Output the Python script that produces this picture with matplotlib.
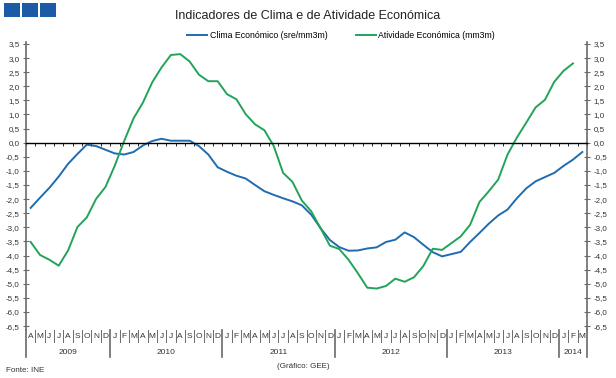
"""
Indicadores de Clima e de Atividade Económica — monthly chart, Apr 2009 to Mar 2014.
"""
import matplotlib
matplotlib.use('Agg')
import matplotlib.pyplot as plt
import matplotlib.transforms as mtransforms
from matplotlib.patches import Rectangle
from matplotlib.ticker import FixedLocator, FuncFormatter
import numpy as np

# ─────────────────────────────────────────────────────────────────────
# DATA
# ─────────────────────────────────────────────────────────────────────
YEARS = [2009, 2010, 2011, 2012, 2013, 2014]
MONTHS_PER_YEAR = [9, 12, 12, 12, 12, 3]          # Apr 2009 .. Mar 2014
MONTH_LETTERS = ['J', 'F', 'M', 'A', 'M', 'J', 'J', 'A', 'S', 'O', 'N', 'D']
FIRST_MONTH = 4

clima = [
    -2.31, -1.95, -1.60, -1.20, -0.75, -0.40, -0.07, -0.12, -0.25, -0.38,
    -0.42, -0.33, -0.10, 0.06, 0.14, 0.07, 0.07, 0.07, -0.12, -0.42,
    -0.87, -1.03, -1.17, -1.27, -1.50, -1.72, -1.85, -1.97, -2.08, -2.22,
    -2.55, -3.03, -3.45, -3.70, -3.83, -3.82, -3.75, -3.71, -3.52, -3.44,
    -3.18, -3.35, -3.62, -3.88, -4.03, -3.95, -3.87, -3.52, -3.20, -2.87,
    -2.58, -2.37, -1.97, -1.62, -1.37, -1.22, -1.07, -0.82, -0.60, -0.33,
]
atividade = [
    -3.52, -3.98, -4.15, -4.36, -3.82, -2.99, -2.65, -1.99, -1.57, -0.81,
    0.06, 0.86, 1.42, 2.14, 2.67, 3.11, 3.14, 2.88, 2.41, 2.18,
    2.18, 1.72, 1.54, 1.01, 0.65, 0.44, -0.12, -1.07, -1.39, -2.05,
    -2.43, -3.03, -3.65, -3.77, -4.15, -4.63, -5.14, -5.17, -5.08, -4.82,
    -4.93, -4.77, -4.37, -3.76, -3.80, -3.56, -3.32, -2.91, -2.10, -1.72,
    -1.31, -0.42, 0.18, 0.71, 1.25, 1.52, 2.16, 2.55, 2.81,
]
y_ticks = np.arange(-6.5, 3.51, 0.5)

BLUE = '#1f6cb0'
GREEN = '#22a35a'
LOGO = '#1c5ca6'
AXIS_GREY = '#6a6a6a'

plt.rcParams.update({
    'font.family': 'sans-serif',
    'font.sans-serif': ['Liberation Sans', 'DejaVu Sans'],
    'font.size': 6,
})

W, H = 616, 378
fig = plt.figure(figsize=(W / 100, H / 100), dpi=100)

# plot area in pixels: x 26..587, y 42..330
ax = fig.add_axes([26 / W, 1 - 330 / H, (587 - 26) / W, (330 - 42) / H])

n_months = sum(MONTHS_PER_YEAR)
ax.plot(np.arange(len(clima)) + 0.5, clima, color=BLUE, lw=1.4,
        label='Clima Económico (sre/mm3m)', solid_joinstyle='round')
ax.plot(np.arange(len(atividade)) + 0.5, atividade, color=GREEN, lw=1.4,
        label='Atividade Económica (mm3m)', solid_joinstyle='round')

ax.set_xlim(0, n_months)
ax.set_ylim(-6.64, 3.57)

# category axis sits on zero, small downward ticks between months
ax.spines['top'].set_visible(False)
ax.spines['bottom'].set_position(('data', 0))
ax.spines['bottom'].set_color('black')
ax.spines['bottom'].set_linewidth(1.0)
for side in ('left', 'right'):
    ax.spines[side].set_color(AXIS_GREY)
    ax.spines[side].set_linewidth(1.2)
ax.xaxis.set_major_locator(FixedLocator(np.arange(n_months + 1)))
ax.tick_params(axis='x', direction='out', length=2.5, width=0.6,
               color='black', labelbottom=False)

ax.yaxis.set_major_locator(FixedLocator(y_ticks))
ax.yaxis.set_major_formatter(
    FuncFormatter(lambda v, p: f'{v:.1f}'.replace('.', ',').replace('-0,0', '0,0')))
ax.tick_params(axis='y', left=True, right=True, labelleft=True, labelright=True,
               direction='inout', length=5, width=0.8, color=AXIS_GREY,
               labelsize=5.8, labelcolor='#333333', pad=2)

# month / year table beneath the plot
trans = mtransforms.blended_transform_factory(ax.transData, ax.transAxes)
ah = 330 - 42
pos = 0
for year, count in zip(YEARS, MONTHS_PER_YEAR):
    start_m = FIRST_MONTH - 1 if year == YEARS[0] else 0
    for k in range(count):
        ax.text(pos + k + 0.5, -6 / ah, MONTH_LETTERS[start_m + k], transform=trans,
                ha='center', va='center', fontsize=6, color='#333333')
        if k > 0:
            ax.plot([pos + k, pos + k], [0, -12 / ah], transform=trans,
                    color=AXIS_GREY, lw=0.7, clip_on=False)
    ax.plot([pos, pos], [0, -27 / ah], transform=trans,
            color=AXIS_GREY, lw=1.2, clip_on=False)
    ax.text(pos + count / 2, -22 / ah, str(year), transform=trans,
            ha='center', va='center', fontsize=6, color='#333333')
    pos += count
ax.plot([pos, pos], [0, -27 / ah], transform=trans,
        color=AXIS_GREY, lw=1.2, clip_on=False)

# title, legend, notes
fig.text(308 / W, 1 - 16 / H, 'Indicadores de Clima e de Atividade Económica',
         ha='center', va='center', fontsize=9, color='#222222')
ax.legend(loc='center', bbox_to_anchor=(341 / W, 1 - 36 / H),
          bbox_transform=fig.transFigure, ncol=2, frameon=False,
          fontsize=6.3, handlelength=2.3, handletextpad=0.3, columnspacing=3.2)
fig.text(6 / W, 1 - 370 / H, 'Fonte: INE', ha='left', va='center',
         fontsize=5.8, color='#333333')
fig.text(277 / W, 1 - 367 / H, '(Gráfico: GEE)', ha='left', va='center',
         fontsize=5.8, color='#333333')

# three blue squares logo
for x0 in (3.5, 21.5, 39.5):
    fig.patches.append(Rectangle((x0 / W, 1 - 17.3 / H), 16.5 / W, 14 / H,
                                 transform=fig.transFigure, facecolor=LOGO,
                                 edgecolor='none', linewidth=0, zorder=5))

fig.savefig('out.png', dpi=100, facecolor='white')
